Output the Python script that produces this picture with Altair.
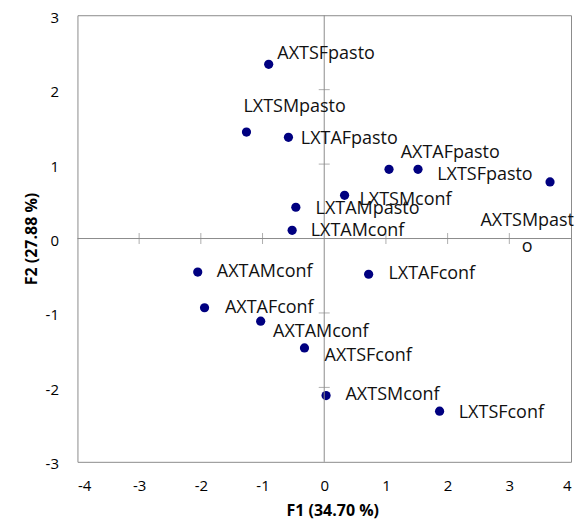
import altair as alt
import pandas as pd

# Observations (F1, F2 scores)
names = ["AXTSFpasto", "LXTSMpasto", "LXTAFpasto", "AXTAFpasto", "LXTSFpasto",
         "AXTSMpasto", "LXTSMconf", "LXTAMpasto", "LXTAMconf", "AXTAMconf",
         "LXTAFconf", "AXTAFconf", "AXTAMconf", "AXTSFconf", "AXTSMconf", "LXTSFconf"]
f1 = [-0.90, -1.26, -0.58, 1.05, 1.52, 3.66, 0.33, -0.46, -0.52, -2.05,
      0.72, -1.94, -1.03, -0.32, 0.03, 1.87]
f2 = [2.34, 1.43, 1.36, 0.93, 0.93, 0.76, 0.58, 0.42, 0.11, -0.45,
      -0.48, -0.93, -1.11, -1.47, -2.11, -2.32]

# Label anchor positions, in data units
label_text = ["AXTSFpasto", "LXTSMpasto", "LXTAFpasto", "AXTAFpasto", "LXTSFpasto",
              "AXTSMpast\no", "LXTSMconf", "LXTAMpasto", "LXTAMconf", "AXTAMconf",
              "LXTAFconf", "AXTAFconf", "AXTAMconf", "AXTSFconf", "AXTSMconf", "LXTSFconf"]
label_x = [-0.76, -1.31, -0.38, 1.24, 1.83, 3.29, 0.57, -0.14, -0.22, -1.74,
           1.04, -1.61, -0.83, 0.005, 0.345, 2.18]
label_y = [2.48, 1.77, 1.34, 1.15, 0.85, 0.24, 0.52, 0.40, 0.10, -0.45,
           -0.48, -0.94, -1.26, -1.58, -2.10, -2.34]
label_wrapped = [0, 0, 0, 0, 0, 1, 0, 0, 0, 0, 0, 0, 0, 0, 0, 0]

x_ticks = [-4, -3, -2, -1, 0, 1, 2, 3, 4]
y_ticks = [-3, -2, -1, 0, 1, 2, 3]
x_zero_ticks = [-3, -2, -1, 1, 2, 3]
y_zero_ticks = [-2, -1, 1, 2]

FONT = "Open Sans"
GRAY = "#8c8c8c"

pts = pd.DataFrame({"name": names, "F1": f1, "F2": f2})
labs = pd.DataFrame({"text": label_text, "lx": label_x, "ly": label_y,
                     "wrapped": label_wrapped})
xt = pd.DataFrame({"t": x_zero_ticks, "z": [0] * len(x_zero_ticks)})
yt = pd.DataFrame({"t": y_zero_ticks, "z": [0] * len(y_zero_ticks)})
zero = pd.DataFrame({"z": [0]})

xs = alt.Scale(domain=[-4, 4], nice=False, zero=False)
ys = alt.Scale(domain=[-3, 3], nice=False, zero=False)

x_axis = alt.Axis(values=x_ticks, grid=False, ticks=False, domain=False,
                  labelExpr="'' + datum.value",
                  labelFontSize=15, labelFont=FONT, labelColor="#000",
                  labelPadding=17, title="F1 (34.70 %)", titleFont=FONT,
                  titleFontSize=16, titleFontWeight="bold", titleColor="#000",
                  titlePadding=9, titleX=255)
y_axis = alt.Axis(values=y_ticks, grid=False, ticks=False, domain=False,
                  labelExpr="'' + datum.value", labelOffset=2,
                  labelFontSize=15, labelFont=FONT, labelColor="#000",
                  labelPadding=19, title="F2 (27.88 %)", titleFont=FONT,
                  titleFontSize=16, titleFontWeight="bold", titleColor="#000",
                  titlePadding=6)


def X(field):
    return alt.X(field, scale=xs, axis=x_axis)


def Y(field):
    return alt.Y(field, scale=ys, axis=y_axis)


hline = alt.Chart(zero).mark_rule(color=GRAY, strokeWidth=1).encode(y=Y("z:Q"))
vline = alt.Chart(zero).mark_rule(color=GRAY, strokeWidth=1).encode(x=X("z:Q"))

xticks = alt.Chart(xt).mark_tick(orient="vertical", size=11, thickness=1, color=GRAY).encode(
    x=X("t:Q"), y=Y("z:Q"))
yticks = alt.Chart(yt).mark_tick(orient="horizontal", size=11, thickness=1, color=GRAY).encode(
    y=Y("t:Q"), x=X("z:Q"))

points = alt.Chart(pts).mark_circle(size=85, color="#000080", opacity=1).encode(
    x=X("F1:Q"), y=Y("F2:Q"), tooltip=["name", "F1", "F2"])

labels_left = alt.Chart(labs).transform_filter("datum.wrapped == 0").mark_text(
    align="left", baseline="middle", font=FONT, fontSize=18, color="#111").encode(
    x=X("lx:Q"), y=Y("ly:Q"), text="text:N")

labels_wrap = alt.Chart(labs).transform_filter("datum.wrapped == 1").mark_text(
    align="center", baseline="middle", font=FONT, fontSize=18, color="#111",
    lineBreak="\n", lineHeight=26).encode(
    x=X("lx:Q"), y=Y("ly:Q"), text="text:N")

chart = alt.layer(points, hline, vline, xticks, yticks, labels_left, labels_wrap).properties(
    width=494, height=447,
    autosize=alt.AutoSizeParams(type="none"),
    padding={"left": 69.5, "top": 7, "right": 8, "bottom": 62},
).configure_view(stroke=GRAY, strokeWidth=1)

chart.save("out.html", embed_options={"renderer": "svg", "actions": False})
